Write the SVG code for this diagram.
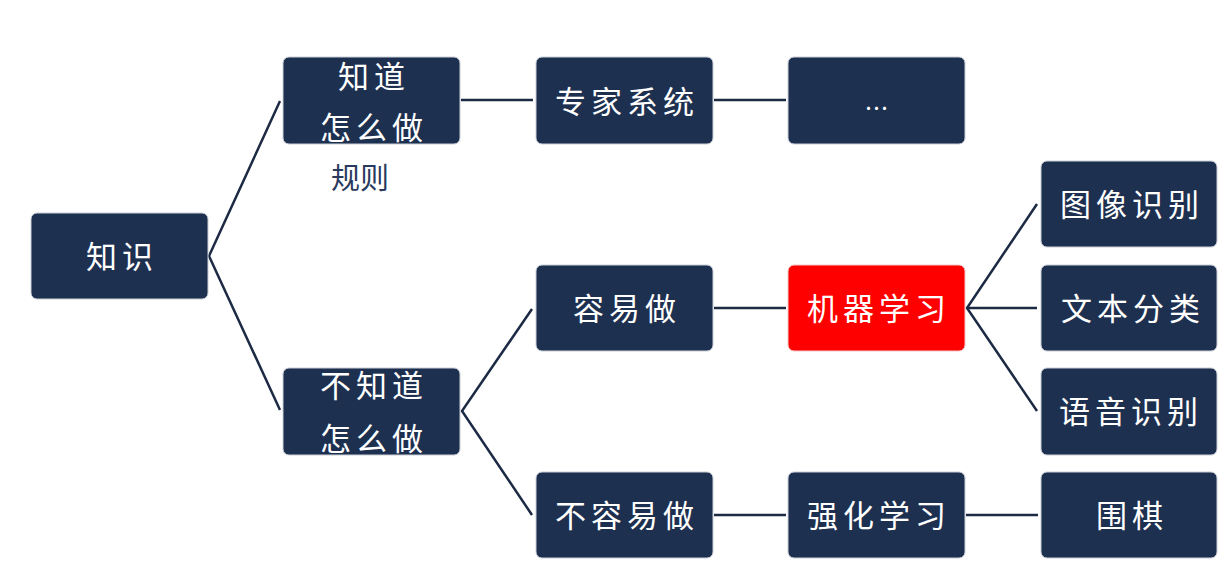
<svg xmlns="http://www.w3.org/2000/svg" width="1230" height="583" viewBox="0 0 1230 583">
<style>
.n{fill:#1e3050;stroke:#c9ced6;stroke-width:1}
.r{fill:#ff0000;stroke:#f0c8c8;stroke-width:1}
.t{fill:#ffffff;font-family:"Noto Sans CJK SC","Noto Sans",sans-serif;font-size:31px;letter-spacing:5px;text-anchor:middle;dominant-baseline:central}
.c{stroke:#1c2a44;stroke-width:2.5;fill:none}
.lbl{fill:#2a3a5e;font-family:"Noto Sans CJK SC","Noto Sans",sans-serif;font-size:29px;dominant-baseline:central}
</style>
<rect width="1230" height="583" fill="#ffffff"/>
<g id="connectors">
<polyline class="c" points="280,101 209,256 280,410"/>
<line class="c" x1="461" y1="100" x2="533" y2="100"/>
<line class="c" x1="714" y1="100" x2="786" y2="100"/>
<polyline class="c" points="532,309 462,411 532,515"/>
<line class="c" x1="714" y1="308" x2="786" y2="308"/>
<line class="c" x1="714" y1="515" x2="786" y2="515"/>
<line class="c" x1="966" y1="515" x2="1038" y2="515"/>
<polyline class="c" points="1037,204 967,308 1037,411"/>
<line class="c" x1="967" y1="308" x2="1037" y2="308"/>
</g>
<g id="n-zhishi"><rect class="n" x="31" y="213" width="177" height="86" rx="6"/><text class="t" x="122" y="254">知识</text></g>
<g id="n-zhidao"><rect class="n" x="283" y="57" width="177" height="87" rx="6"/><text class="t" x="374" y="74">知道</text><text class="t" x="374" y="125">怎么做</text></g>
<g id="n-rule"><text class="lbl" x="331" y="176">规则</text></g>
<g id="n-expert"><rect class="n" x="536" y="57" width="177" height="87" rx="6"/><text class="t" x="627" y="99">专家系统</text></g>
<g id="n-more"><rect class="n" x="788" y="57" width="177" height="87" rx="6"/><text class="t" x="879" y="106" style="font-size:24px">…</text></g>
<g id="n-buzhidao"><rect class="n" x="283" y="368" width="177" height="87" rx="6"/><text class="t" x="374" y="383">不知道</text><text class="t" x="374" y="436">怎么做</text></g>
<g id="n-easy"><rect class="n" x="536" y="265" width="177" height="86" rx="6"/><text class="t" x="627" y="306">容易做</text></g>
<g id="n-ml"><rect class="r" x="788" y="265" width="177" height="86" rx="6"/><text class="t" x="879" y="306">机器学习</text></g>
<g id="n-image"><rect class="n" x="1041" y="161" width="176" height="86" rx="6"/><text class="t" x="1132" y="202">图像识别</text></g>
<g id="n-text"><rect class="n" x="1041" y="265" width="176" height="86" rx="6"/><text class="t" x="1133" y="306">文本分类</text></g>
<g id="n-speech"><rect class="n" x="1041" y="368" width="176" height="87" rx="6"/><text class="t" x="1131" y="409">语音识别</text></g>
<g id="n-hard"><rect class="n" x="536" y="472" width="177" height="86" rx="6"/><text class="t" x="627" y="513">不容易做</text></g>
<g id="n-rl"><rect class="n" x="788" y="472" width="177" height="86" rx="6"/><text class="t" x="879" y="513">强化学习</text></g>
<g id="n-go"><rect class="n" x="1041" y="472" width="176" height="86" rx="6"/><text class="t" x="1132" y="513">围棋</text></g>
</svg>
